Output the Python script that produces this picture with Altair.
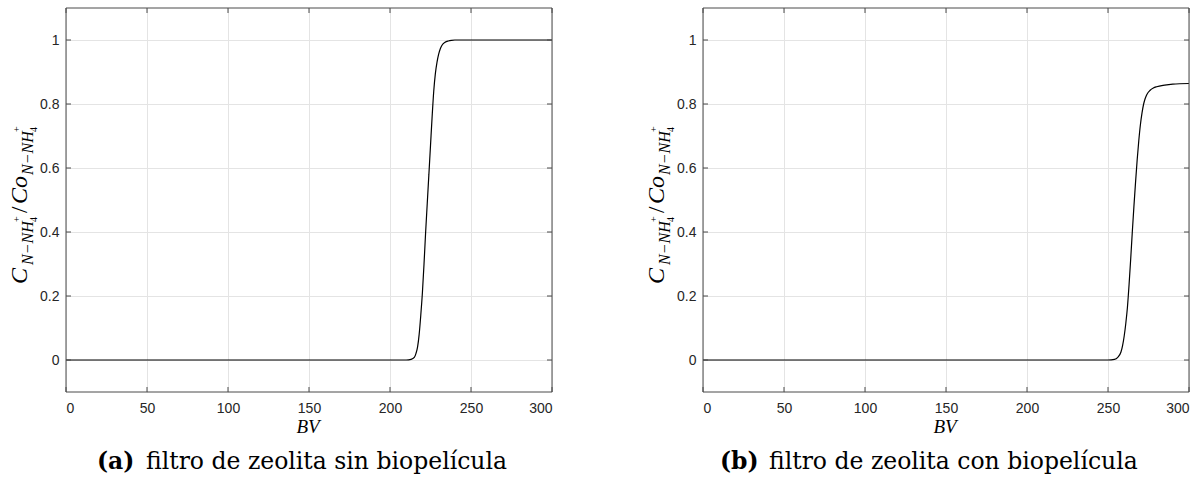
import altair as alt
import pandas as pd

# ---- data ----
bv_a = [0, 200, 210, 213, 215, 216, 217, 218, 219, 220, 221, 222, 223, 224, 225, 226,
        227, 228, 229, 230, 231, 232, 234, 236, 238, 240, 245, 300]
c_a = [0, 0, 0, 0.002, 0.008, 0.02, 0.04, 0.08, 0.14, 0.21, 0.30, 0.40, 0.49, 0.58, 0.67,
       0.76, 0.84, 0.895, 0.93, 0.955, 0.972, 0.983, 0.993, 0.997, 0.999, 1.0, 1.0, 1.0]

bv_b = [0, 250, 254, 256, 258, 259, 260, 261, 262, 263, 264, 265, 266, 267, 268, 269,
        270, 271, 272, 273, 274, 276, 278, 280, 285, 290, 300]
c_b = [0, 0, 0.002, 0.008, 0.025, 0.045, 0.075, 0.115, 0.165, 0.235, 0.315, 0.40, 0.48,
       0.555, 0.625, 0.685, 0.735, 0.772, 0.80, 0.818, 0.830, 0.843, 0.850, 0.854, 0.859,
       0.862, 0.864]

x_ticks = [0, 50, 100, 150, 200, 250, 300]
y_ticks = [0, 0.2, 0.4, 0.6, 0.8, 1]

captions = [("(a)", "filtro de zeolita sin biopelícula"),
            ("(b)", "filtro de zeolita con biopelícula")]

W, H = 486, 384
AXC = "#4a4a4a"
TICKC = "#262626"
SERIF = "Liberation Serif"
CAPF = "DejaVu Serif"

one = pd.DataFrame({"k": [0]})

# y-label pieces: text, size, along-offset, baseline-offset, italic
ylab_pieces = [
    ("C", 24, 0, 0, True),
    ("N−NH", 16, 19, 6, True),
    ("+", 10, 62, -7, False),
    ("4", 10, 62, 9.5, False),
    ("/", 23, 71, 0, False),
    ("C", 24, 80, 0, True),
    ("o", 24, 96, 0, True),
    ("N−NH", 16, 109, 6, True),
    ("+", 10, 152, -7, False),
    ("4", 10, 152, 9.5, False),
]


def panel(bv, c, cap, cap_left, rest_left, ylab_x, anchors):
    df = pd.DataFrame({"bv": bv, "c": c})
    xs = alt.Scale(domain=[0, 300], nice=False, zero=False)
    ys = alt.Scale(domain=[-0.1, 1.1], nice=False, zero=False)
    xaxis = alt.Axis(values=x_ticks, grid=True, gridColor="#e4e4e4", domain=False,
                     ticks=False, tickSize=0, labelPadding=9, title=None,
                     labelFont="Liberation Sans", labelFontSize=14, labelColor=TICKC,
                     format="d")
    yaxis = alt.Axis(values=y_ticks, grid=True, gridColor="#e4e4e4", domain=False,
                     ticks=False, tickSize=0, labelPadding=7, title=None,
                     labelFont="Liberation Sans", labelFontSize=14, labelColor=TICKC,
                     format="~g")
    line = alt.Chart(df).mark_line(color="black", strokeWidth=1.2,
                                   interpolate="monotone").encode(
        x=alt.X("bv:Q", scale=xs, axis=xaxis),
        y=alt.Y("c:Q", scale=ys, axis=yaxis),
    )
    xt = pd.DataFrame({"bv": x_ticks})
    yt = pd.DataFrame({"c": y_ticks})
    tick_b = alt.Chart(xt).mark_rule(color=AXC, strokeWidth=1).encode(
        x="bv:Q", y=alt.value(H), y2=alt.value(H - 5))
    tick_t = alt.Chart(xt).mark_rule(color=AXC, strokeWidth=1).encode(
        x="bv:Q", y=alt.value(0), y2=alt.value(5))
    tick_l = alt.Chart(yt).mark_rule(color=AXC, strokeWidth=1).encode(
        y="c:Q", x=alt.value(0), x2=alt.value(5))
    tick_r = alt.Chart(yt).mark_rule(color=AXC, strokeWidth=1).encode(
        y="c:Q", x=alt.value(W - 5), x2=alt.value(W))
    border = alt.Chart(one).mark_rect(filled=False, stroke=AXC, strokeWidth=1).encode(
        x=alt.value(0), x2=alt.value(W), y=alt.value(0), y2=alt.value(H))
    bvt = alt.Chart(one).mark_text(text="BV", font=SERIF, fontStyle="italic",
                                   fontSize=19, align="center", color="black").encode(
        x=alt.value(W / 2 - 1), y=alt.value(419))
    layers = [line, tick_b, tick_t, tick_l, tick_r, border, bvt]
    for txt, sz, dx, dy, it in ylab_pieces:
        kw = dict(text=txt, font=SERIF, fontSize=sz, angle=270, align="left",
                  baseline="alphabetic", dx=dx, dy=dy, color="black")
        if it:
            kw["fontStyle"] = "italic"
        layers.append(alt.Chart(one).mark_text(**kw).encode(
            x=alt.value(ylab_x), y=alt.value(276)))
    layers.append(alt.Chart(one).mark_text(
        text=cap[0], font=CAPF, fontWeight="bold", fontSize=23.5, align="left",
        color="black").encode(x=alt.value(cap_left), y=alt.value(454)))
    layers.append(alt.Chart(one).mark_text(
        text=cap[1], font=CAPF, fontSize=23.5, align="left",
        color="black").encode(x=alt.value(rest_left), y=alt.value(454)))
    for (ax, ay) in anchors:
        layers.append(alt.Chart(one).mark_rule(opacity=0, strokeOpacity=0).encode(
            x=alt.value(ax), x2=alt.value(ax), y=alt.value(ay), y2=alt.value(ay)))
    return alt.layer(*layers).properties(width=W, height=H)


left = panel(bv_a, c_a, captions[0], 31, 80, -39, [(-66, -8)])
right = panel(bv_b, c_b, captions[1], 17, 66, -39, [(501, 477)])

chart = alt.hconcat(left, right, spacing=151, bounds="flush").properties(
    padding=0
).configure_view(stroke=None)

chart.save("out.html", embed_options={"renderer": "svg", "actions": False})
